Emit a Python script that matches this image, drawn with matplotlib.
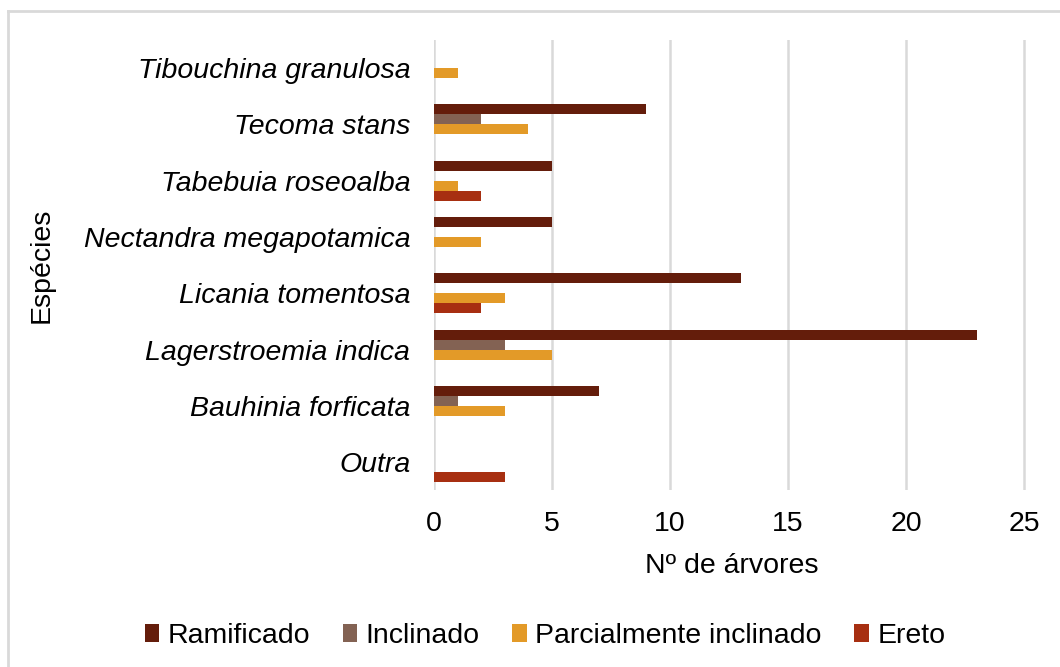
import matplotlib
matplotlib.use("Agg")
import matplotlib.pyplot as plt
from matplotlib.lines import Line2D
from matplotlib.patches import Patch
import numpy as np

plt.rcParams['font.family'] = ['Liberation Sans', 'DejaVu Sans']

species = ["Tibouchina granulosa", "Tecoma stans", "Tabebuia roseoalba",
           "Nectandra megapotamica", "Licania tomentosa", "Lagerstroemia indica",
           "Bauhinia forficata", "Outra"]
ramificado = [0, 9, 5, 5, 13, 23, 7, 0]
inclinado = [0, 2, 0, 0, 0, 3, 1, 0]
parcialmente = [1, 4, 1, 2, 3, 5, 3, 0]
ereto = [0, 0, 2, 0, 2, 0, 0, 3]

series_names = ["Ramificado", "Inclinado", "Parcialmente inclinado", "Ereto"]
series_vals = [ramificado, inclinado, parcialmente, ereto]
colors = ["#641D0B", "#836253", "#E39A28", "#A72F11"]

FS = 20.5

fig = plt.figure(figsize=(10.6, 6.67), dpi=100)
ax = fig.add_axes([0.4094, 0.265, 0.5614, 0.675])

y = np.arange(len(species))
h = 0.178
offsets = [-1.5 * h, -0.5 * h, 0.5 * h, 1.5 * h]
for name, vals, c, off in zip(series_names, series_vals, colors, offsets):
    ax.barh(y + off, vals, height=h, color=c, edgecolor='none', label=name, zorder=3)

ax.set_ylim(len(species) - 0.5, -0.5)
ax.set_xlim(0, 25.2)
ax.set_xticks([0, 5, 10, 15, 20, 25])
ax.set_yticks(y)
ax.set_yticklabels(species, fontstyle='italic', fontsize=FS)
ax.tick_params(axis='x', labelsize=FS, length=0, pad=15)
ax.tick_params(axis='y', length=0, pad=17)
ax.grid(axis='x', color='#D9D9D9', linewidth=1.8, zorder=0)
for s in ax.spines.values():
    s.set_visible(False)
ax.set_xlabel("Nº de árvores", fontsize=FS)
ax.set_ylabel("Espécies", fontsize=FS)
ax.xaxis.set_label_coords(0.5, -(566 - 490) / 450.0)
ax.xaxis.label.set_va('center')
ax.yaxis.set_label_coords(-(434 - 42) / 595.0, 0.5)
ax.yaxis.label.set_va('center')

handles = [Patch(facecolor=c, edgecolor='none') for c in colors]
fig.legend(handles, series_names, loc='center', bbox_to_anchor=(545 / 1060, 1 - 636 / 667),
           ncol=4, frameon=False, fontsize=FS, handlelength=0.5, handleheight=0.55,
           handletextpad=0.3, columnspacing=1.15)

# outer frame (partially visible)
fig.add_artist(Line2D([8 / 1060, 1.0], [1 - 11 / 667, 1 - 11 / 667], transform=fig.transFigure,
                      color='#D9D9D9', linewidth=2))
fig.add_artist(Line2D([8 / 1060, 8 / 1060], [0, 1 - 11 / 667], transform=fig.transFigure,
                      color='#D9D9D9', linewidth=2))

fig.savefig("out.png", dpi=100)
